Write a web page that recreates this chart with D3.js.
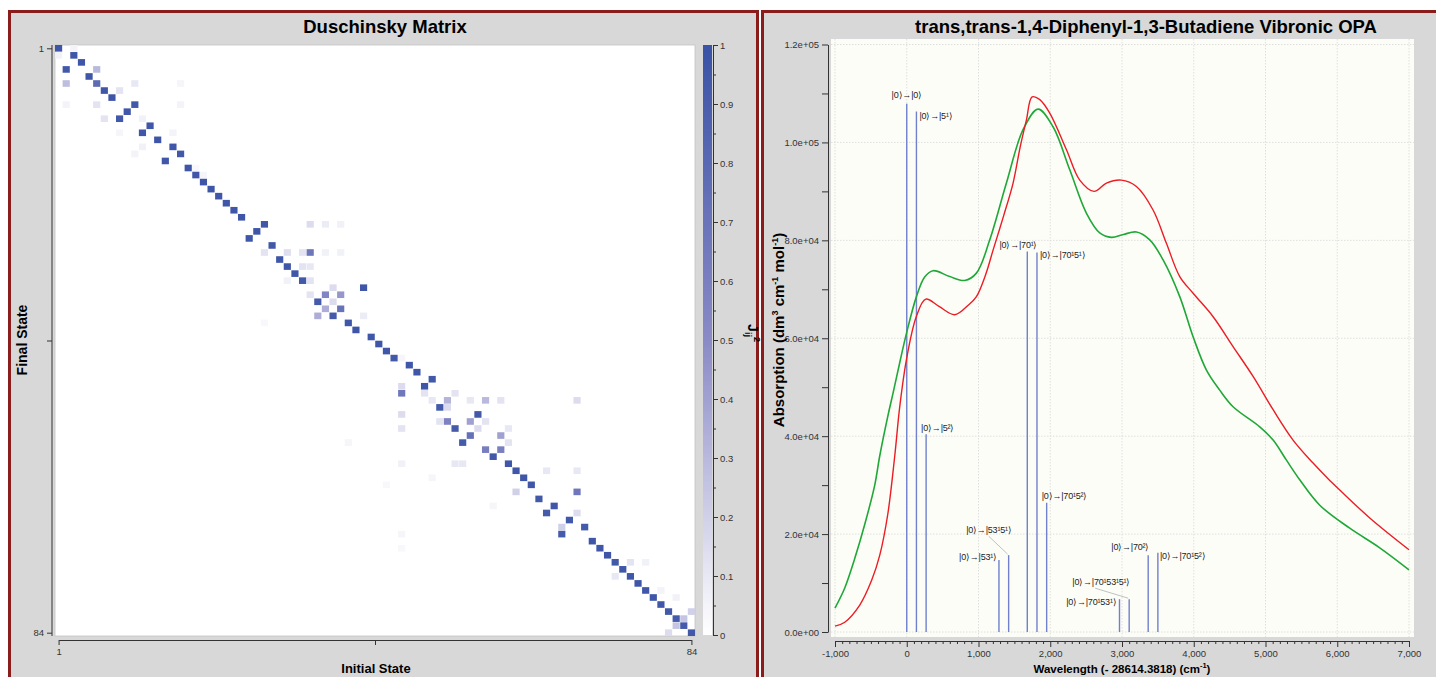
<!DOCTYPE html>
<html>
<head>
<meta charset="utf-8">
<script src="https://cdn.jsdelivr.net/npm/d3@7"></script>
<style>
html,body{margin:0;padding:0;background:#fff;}
text{font-family:"Liberation Sans",Arial,sans-serif;}
</style>
</head>
<body>
<div id="chart"></div>
<script>
// ---- Duschinsky matrix data (row -> strongest column, its value, plus off entries)
const nModes = 84
const diagCol = [
1,3,4,2,5,6,7,8,11,10,
9,13,12,14,16,17,15,18,19,20,
21,22,23,24,25,28,27,26,29,34,
30,31,32,33,41,36,35,38,37,39,
40,42,43,44,45,47,48,50,49,46,
52,51,56,52,53,55,54,57,58,60,
61,62,63,69,64,66,65,68,70,67,
71,72,73,74,75,76,77,78,79,80,
81,82,83,84]
const diagVal = [
0.97,0.96,0.97,0.95,0.97,0.78,0.96,0.97,0.95,0.96,
0.95,0.96,0.96,0.97,0.96,0.95,0.96,0.97,0.96,0.97,
0.97,0.96,0.97,0.96,0.97,0.96,0.97,0.96,0.95,0.68,
0.96,0.97,0.96,0.95,0.96,0.55,0.94,0.72,0.93,0.96,
0.97,0.96,0.97,0.96,0.95,0.96,0.97,0.95,0.96,0.66,
0.32,0.94,0.95,0.58,0.93,0.74,0.94,0.62,0.95,0.96,
0.96,0.97,0.96,0.67,0.95,0.96,0.94,0.95,0.94,0.93,
0.97,0.96,0.97,0.95,0.96,0.96,0.97,0.96,0.97,0.96,
0.95,0.94,0.93,0.95]
// [row, col, value]
const offCells = [
[1,3,0.05],[2,1,0.06],[4,6,0.3],[6,2,0.28],[6,11,0.1],[6,17,0.04],[7,9,0.12],
[9,2,0.05],[9,6,0.12],[9,17,0.05],[11,7,0.12],[11,12,0.06],[13,9,0.04],[13,16,0.05],
[15,12,0.06],[16,11,0.05],[18,19,0.03],[19,20,0.04],[26,34,0.15],[26,36,0.08],[26,38,0.06],
[30,28,0.12],[30,31,0.14],[30,33,0.12],[30,36,0.06],[30,38,0.06],[32,33,0.12],[32,34,0.1],
[34,31,0.06],[34,34,0.12],[35,37,0.15],[36,34,0.12],[36,38,0.45],[37,37,0.15],[38,36,0.35],
[39,35,0.35],[39,41,0.08],[49,46,0.15],[50,49,0.12],[50,53,0.12],[51,50,0.1],[51,55,0.1],
[51,57,0.3],[51,59,0.12],[51,69,0.15],[52,52,0.15],[53,46,0.15],[54,51,0.12],[54,55,0.4],
[54,57,0.12],[55,46,0.12],[55,56,0.15],[55,60,0.1],[56,59,0.4],[57,60,0.12],[58,59,0.6],
[60,53,0.1],[60,54,0.1],[61,65,0.1],[61,69,0.1],[64,61,0.2],[67,69,0.15],[69,67,0.2],
[74,76,0.12],[74,78,0.06],[76,74,0.1],[81,84,0.2],[82,83,0.25],[83,82,0.25],[84,81,0.15],
[45,46,0.04],[60,46,0.06],[70,46,0.04],[72,46,0.03],[40,28,0.03],[57,39,0.04],[63,44,0.03],
[62,50,0.04],[66,58,0.04],[78,80,0.05],[79,82,0.06]]
const colorTicks = d3.range(0, 1.0001, 0.05)

// ---- Vibronic OPA spectrum data
const redX = [-1000,-864,-655,-488,-376,-265,-167,-98,0,135,265,450,669,860,971,1100,1203,1350,1482,1580,
1668,1747,1850,1993,2226,2411,2610,2783,2992,3201,3433,3619,3805,3991,4270,4548,4827,5106,5384,5663,
5872,6035,6453,7000]
const redY = [1200,2000,5500,10600,15700,24000,36000,46000,56000,64500,68000,66500,64800,66800,68500,73000,78000,85000,91700,99000,
104600,109300,108800,106000,98500,92300,90000,91700,92300,91000,86200,79400,72600,69200,64400,58300,52200,45400,39200,34500,
31300,29000,23300,16800]
const greenX = [-1000,-864,-725,-585,-446,-376,-265,-191,-98,-4,135,250,367,599,808,971,1157,1389,1621,1830,
2039,2272,2505,2690,2853,3020,3201,3387,3573,3805,3991,4177,4362,4548,4920,5106,5292,5477,5756,6174,
6592,7000]
const greenY = [4900,9000,15000,22000,30000,36000,44000,48800,55000,61000,68500,72500,73800,72600,71800,73300,80100,91700,102600,106800,
103200,94400,85500,81500,80600,81200,81700,80100,76000,68500,60300,53500,49400,46000,41900,39200,35100,31100,25900,21200,
17200,12700]
const stickX = [0,135,270,1285,1420,1680,1815,1950,2965,3100,3365,3500]
const stickY = [107900,106300,40400,14700,15700,77700,77500,26400,6700,6700,15700,16200]
const stickLabels = ["|0⟩→|0⟩","|0⟩→|5¹⟩","|0⟩→|5²⟩","|0⟩→|53¹⟩","|0⟩→|53¹5¹⟩","|0⟩→|70¹⟩",
"|0⟩→|70¹5¹⟩","|0⟩→|70¹5²⟩","|0⟩→|70¹53¹⟩","|0⟩→|70¹53¹5¹⟩","|0⟩→|70²⟩","|0⟩→|70¹5²⟩"]
const xTicks = d3.range(-1000, 7001, 1000)
const yTicks = d3.range(0, 120001, 20000)

// label placement for the stick annotations: anchor, dx, dy from the stick top
const stickLabelAt = [["middle",0,-6],["start",3,7],["start",-5,-3],["end",-2,0],["end",3,-22],["end",10,-4],
["start",3,5],["start",-5,-4],["end",-3,6],["end",1,-14],["end",1,-5],["start",2,6]]
const leaderFrom = {4:[-20,-19], 9:[-34,-11]}

const width = 1436
const height = 677

const svg = d3.select("#chart")
.append("svg")
.attr("width",width)
.attr("height",height)

// panels
svg.append("rect").attr("x",9.5).attr("y",11.5).attr("width",748).attr("height",700)
.attr("fill","#d8d8d8").attr("stroke","#8b1c1c").attr("stroke-width",3)
svg.append("rect").attr("x",762.5).attr("y",11.5).attr("width",700).attr("height",700)
.attr("fill","#d8d8d8").attr("stroke","#8b1c1c").attr("stroke-width",3)

// ================= left: Duschinsky matrix =================
const left = svg.append("g")

left.append("text")
.attr("x",385).attr("y",33)
.attr("text-anchor","middle")
.attr("font-size",18.5).attr("font-weight","bold")
.text("Duschinsky Matrix")

const modes = d3.range(1, nModes+1)
const xBand = d3.scaleBand().domain(modes).range([55,695]).paddingInner(0.06)
const yBand = d3.scaleBand().domain(modes).range([45,636]).paddingInner(0.06)
const color = d3.scaleLinear().domain([0,0.5,1]).range(["#ffffff","#8a8ac6","#3a53a6"])

left.append("rect")
.attr("x",55).attr("y",45).attr("width",640).attr("height",591)
.attr("fill","#fff").attr("stroke","#c4c4c4").attr("stroke-width",0.8)

const cells = offCells.map(d=>({row:d[0],col:d[1],v:d[2]}))
.concat(diagCol.map((c,i)=>({row:i+1,col:c,v:diagVal[i]})))

left.selectAll("rect.cell")
.data(cells)
.enter()
.append("rect")
.attr("class","cell")
.attr("x",d=>xBand(d.col))
.attr("y",d=>yBand(d.row))
.attr("width",xBand.bandwidth())
.attr("height",yBand.bandwidth())
.attr("fill",d=>color(d.v))

const xLin = d3.scaleLinear().domain([1,nModes])
.range([xBand(1)+xBand.bandwidth()/2, xBand(nModes)+xBand.bandwidth()/2])
const yLin = d3.scaleLinear().domain([1,nModes])
.range([yBand(1)+yBand.bandwidth()/2, yBand(nModes)+yBand.bandwidth()/2])
const endLabel = d=> (d===1||d===nModes) ? d : ""

const ax1 = left.append("g")
.attr("transform","translate(0,640)")
.call(d3.axisBottom(xLin).tickValues([1,(1+nModes)/2,nModes]).tickFormat(endLabel).tickSize(5).tickSizeOuter(0))
const ay1 = left.append("g")
.attr("transform","translate(52,0)")
.call(d3.axisLeft(yLin).tickValues([1,(1+nModes)/2,nModes]).tickFormat(endLabel).tickSize(5).tickSizeOuter(0))
ay1.select(".domain").attr("d","M0,45V636")

left.append("text")
.attr("transform","translate(27,340) rotate(-90)")
.attr("text-anchor","middle")
.attr("font-size",14).attr("font-weight","bold")
.text("Final State")
left.append("text")
.attr("x",376).attr("y",673)
.attr("text-anchor","middle")
.attr("font-size",13).attr("font-weight","bold")
.text("Initial State")

// colour bar
const defs = svg.append("defs")
const grad = defs.append("linearGradient").attr("id","cbar")
.attr("x1","0").attr("y1","1").attr("x2","0").attr("y2","0")
grad.selectAll("stop")
.data(d3.range(0,1.001,0.1))
.enter()
.append("stop")
.attr("offset",d=>d)
.attr("stop-color",d=>color(d))

const cbY = d3.scaleLinear().domain([0,1]).range([635,45])
left.append("rect")
.attr("x",703).attr("y",45).attr("width",9).attr("height",590)
.attr("fill","url(#cbar)")
const cbAxis = left.append("g")
.attr("transform","translate(713,0)")
.call(d3.axisRight(cbY).tickValues(colorTicks)
.tickFormat(d=>{const t=Math.round(d*100); return t%10===0 ? d3.format("~g")(t/100) : ""})
.tickSize(5).tickSizeOuter(0))
cbAxis.selectAll(".tick line").attr("x2",(d)=>Math.round(d*100)%10===0 ? 5 : 3)
cbAxis.selectAll(".tick text").attr("x",7)

const cbLabel = left.append("text")
.attr("transform","translate(748,333) rotate(90)")
.attr("text-anchor","middle")
.attr("font-size",14).attr("font-weight","bold")
cbLabel.append("tspan").text("J")
cbLabel.append("tspan").attr("dy",3).attr("font-size",9).text("ij")
cbLabel.append("tspan").attr("dy",-9).attr("font-size",9).text("2")

// ================= right: vibronic spectrum =================
const right = svg.append("g")

right.append("text")
.attr("x",1146).attr("y",33)
.attr("text-anchor","middle")
.attr("font-size",18.5).attr("font-weight","bold")
.text("trans,trans-1,4-Diphenyl-1,3-Butadiene Vibronic OPA")

const xS = d3.scaleLinear().domain([-1000,7000]).range([835,1409])
const yS = d3.scaleLinear().domain([0,120000]).range([632,44.5])

right.append("rect")
.attr("x",831).attr("y",39).attr("width",583).attr("height",598)
.attr("fill","#fdfdf8")

// grid
right.selectAll("line.vg")
.data(xTicks)
.enter()
.append("line")
.attr("x1",d=>xS(d)).attr("x2",d=>xS(d))
.attr("y1",39).attr("y2",637)
.attr("stroke","#dedede").attr("stroke-dasharray","1.5,1.5")
right.selectAll("line.hg")
.data(yTicks)
.enter()
.append("line")
.attr("x1",831).attr("x2",1414)
.attr("y1",d=>yS(d)).attr("y2",d=>yS(d))
.attr("stroke","#dedede").attr("stroke-dasharray","1.5,1.5")

// sticks
right.selectAll("line.stick")
.data(stickX)
.enter()
.append("line")
.attr("x1",d=>xS(d)).attr("x2",d=>xS(d))
.attr("y1",yS(0)).attr("y2",(d,i)=>yS(stickY[i]))
.attr("stroke","#7080cc").attr("stroke-width",1.4)

Object.keys(leaderFrom).forEach(k=>{
const i = +k
const x0 = xS(stickX[i]), y0 = yS(stickY[i])
right.append("line")
.attr("x1",x0+leaderFrom[k][0]).attr("y1",y0+leaderFrom[k][1])
.attr("x2",x0-1).attr("y2",y0-1)
.attr("stroke","#b0b0b0").attr("stroke-width",0.8)
})

right.selectAll("text.slab")
.data(stickLabels)
.enter()
.append("text")
.attr("x",(d,i)=>xS(stickX[i])+stickLabelAt[i][1])
.attr("y",(d,i)=>yS(stickY[i])+stickLabelAt[i][2])
.attr("text-anchor",(d,i)=>stickLabelAt[i][0])
.attr("font-family","'DejaVu Serif','Liberation Serif',serif")
.attr("font-size",9)
.attr("letter-spacing",-0.2)
.attr("fill","#222")
.text(d=>d)

// spectra
const line = d3.line().x(d=>xS(d[0])).y(d=>yS(d[1])).curve(d3.curveCatmullRom.alpha(0.5))
right.append("path")
.datum(greenX.map((x,i)=>[x,greenY[i]]))
.attr("d",line)
.attr("fill","none").attr("stroke","#1fa838").attr("stroke-width",1.6)
right.append("path")
.datum(redX.map((x,i)=>[x,redY[i]]))
.attr("d",line)
.attr("fill","none").attr("stroke","#ec1c24").attr("stroke-width",1.4)

// axes
const sci = v=>{
if(v===0) return "0.0e+00"
const e = Math.floor(Math.log10(v))
return (v/Math.pow(10,e)).toFixed(1)+"e+"+String(e).padStart(2,"0")
}
const ay2 = right.append("g")
.attr("transform","translate(828,0)")
.call(d3.axisLeft(yS).tickValues(d3.range(0,120001,10000))
.tickFormat(d=>d%20000===0 ? sci(d) : "").tickSize(6).tickSizeOuter(0))

const ax2 = right.append("g")
.attr("transform","translate(0,641)")
.call(d3.axisBottom(xS).tickValues(d3.range(-1000,7001,100))
.tickFormat(d=>d%1000===0 ? d3.format(",")(d).replace("−","-") : "").tickSize(6).tickSizeOuter(0))
ax2.selectAll(".tick line").attr("y2",d=>d%1000===0 ? 6 : 3)

right.append("text")
.attr("x",1122).attr("y",673)
.attr("text-anchor","middle")
.attr("font-size",11.5).attr("font-weight","bold")
.call(t=>{
t.append("tspan").text("Wavelength (- 28614.3818) (cm")
t.append("tspan").attr("dy",-5).attr("font-size",7.5).text("-1")
t.append("tspan").attr("dy",5).text(")")
})

right.append("text")
.attr("transform","translate(784,330) rotate(-90)")
.attr("text-anchor","middle")
.attr("font-size",15).attr("font-weight","bold")
.call(t=>{
t.append("tspan").text("Absorption (dm")
t.append("tspan").attr("dy",-6).attr("font-size",9).text("3")
t.append("tspan").attr("dy",6).text(" cm")
t.append("tspan").attr("dy",-6).attr("font-size",9).text("-1")
t.append("tspan").attr("dy",6).text(" mol")
t.append("tspan").attr("dy",-6).attr("font-size",9).text("-1")
t.append("tspan").attr("dy",6).text(")")
})

// axis styling
svg.selectAll(".tick text").attr("font-size",9.5).attr("fill","#333")
.attr("font-family","'Liberation Sans',Arial,sans-serif")
svg.selectAll(".domain, .tick line").attr("stroke","#333")
</script>
</body>
</html>
